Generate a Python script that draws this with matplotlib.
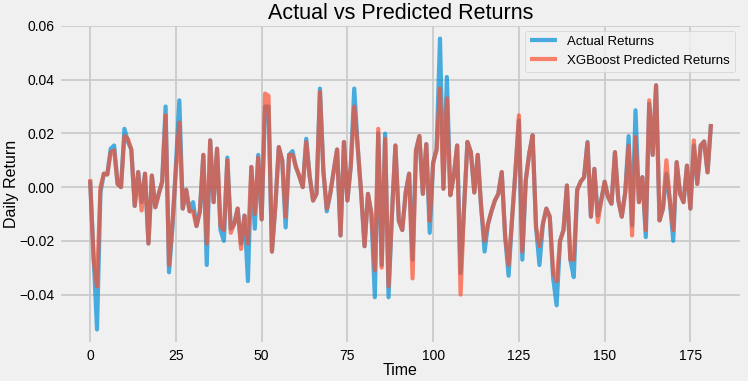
import numpy as np
import matplotlib
matplotlib.use("Agg")
import matplotlib.pyplot as plt

# -------- Data -----------------------------------
actual_returns = [
    0.0025, -0.025, -0.053, -0.002, 0.005, 0.0047, 0.0143, 0.0155, 0.0012, 0.0,
    0.0217, 0.017, 0.014, -0.007, 0.0056, -0.0056, 0.005, -0.021, 0.0043, -0.0075,
    -0.0025, 0.002, 0.030, -0.0317, -0.015, 0.008, 0.0323, -0.008, -0.001, -0.009,
    -0.0056, -0.0145, -0.009, 0.012, -0.029, 0.0174, -0.0056, 0.0143, -0.016, -0.02,
    0.011, -0.0155, -0.0137, -0.008, -0.021, -0.0106, -0.035, 0.0075, -0.0155, 0.012,
    -0.012, 0.030, 0.030, -0.024, -0.007, 0.0149, 0.010, -0.015, 0.012, 0.0134,
    0.0075, 0.004, 0.0, 0.018, 0.004, -0.005, -0.0025, 0.0367, 0.006, -0.009,
    -0.0025, 0.006, 0.014, -0.018, 0.0168, -0.005, 0.008, 0.0367, 0.015, -0.002,
    -0.022, -0.0025, -0.01, -0.041, 0.020, -0.029, 0.0199, -0.041, -0.01, 0.0155,
    -0.0125, -0.016, -0.002, 0.005, -0.027, 0.0137, 0.019, -0.0025, 0.016, -0.017,
    0.009, 0.014, 0.0553, -0.0006, 0.041, -0.003, 0.004, 0.0155, -0.032, -0.008,
    0.0168, 0.013, -0.002, 0.012, -0.0075, -0.024, -0.0137, -0.009, -0.005, -0.0025,
    0.0056, -0.0186, -0.033, -0.012, 0.006, 0.0248, -0.027, 0.0025, 0.0124, 0.0193,
    -0.015, -0.029, -0.0137, -0.008, -0.011, -0.034, -0.044, -0.02, -0.016, 0.0006,
    -0.027, -0.0335, -0.001, 0.002, 0.0037, 0.0168, -0.011, 0.0068, -0.0106, -0.005,
    0.002, -0.0037, -0.0062, 0.013, -0.005, -0.011, -0.002, 0.019, -0.0143, 0.0286,
    -0.0056, 0.0037, -0.0186, 0.031, 0.012, 0.0379, -0.0124, -0.008, 0.005, -0.005,
    -0.02, 0.0093, -0.0025, -0.0056, 0.008, -0.008, 0.0155, 0.0012, 0.0155, 0.017,
    0.0055, 0.0235,
]

predicted_returns = [
    0.003, -0.027, -0.037, 0.0, 0.005, 0.0047, 0.013, 0.0137, 0.0012, 0.0,
    0.019, 0.018, 0.014, -0.007, 0.0056, -0.0087, 0.005, -0.021, 0.0043, -0.0075,
    -0.0025, 0.002, 0.0267, -0.029, -0.013, 0.006, 0.024, -0.008, -0.001, -0.009,
    -0.009, -0.0145, -0.009, 0.012, -0.021, 0.0174, -0.0056, 0.0143, -0.0145, -0.016,
    0.010, -0.017, -0.0137, -0.008, -0.023, -0.0106, -0.021, 0.0075, -0.010, 0.011,
    -0.012, 0.0348, 0.034, -0.024, -0.007, 0.0149, 0.010, -0.011, 0.012, 0.012,
    0.0075, 0.004, 0.0, 0.0168, 0.004, -0.005, -0.0025, 0.0354, 0.006, -0.008,
    -0.0025, 0.006, 0.014, -0.018, 0.0168, -0.005, 0.008, 0.030, 0.015, -0.002,
    -0.022, -0.0025, -0.01, -0.031, 0.0217, -0.030, 0.018, -0.037, -0.01, 0.0155,
    -0.0125, -0.016, -0.002, 0.005, -0.034, 0.0137, 0.019, -0.0025, 0.016, -0.0125,
    0.009, 0.014, 0.0367, -0.0006, 0.033, -0.003, 0.004, 0.0155, -0.040, -0.008,
    0.0168, 0.013, -0.002, 0.012, -0.0075, -0.020, -0.0137, -0.009, -0.005, -0.0025,
    0.0056, -0.0186, -0.029, -0.012, 0.006, 0.0267, -0.024, 0.0025, 0.0124, 0.0193,
    -0.015, -0.022, -0.0137, -0.008, -0.011, -0.032, -0.035, -0.02, -0.016, 0.0006,
    -0.027, -0.027, -0.001, 0.002, 0.0037, 0.0165, -0.011, 0.0068, -0.013, -0.005,
    0.002, -0.0037, -0.0062, 0.013, -0.005, -0.011, -0.002, 0.0155, -0.018, 0.0186,
    -0.0056, 0.0037, -0.016, 0.0323, 0.012, 0.0379, -0.0124, -0.008, 0.010, -0.005,
    -0.016, 0.0093, -0.0025, -0.0056, 0.008, -0.008, 0.0174, 0.0012, 0.0155, 0.017,
    0.0055, 0.0235,
]

TITLE = "Actual vs Predicted Returns"
X_LABEL = "Time"
Y_LABEL = "Daily Return"
# --------------------------------------------------

plt.style.use("fivethirtyeight")
plt.rcParams["font.family"] = ["Liberation Sans", "DejaVu Sans"]

fig = plt.figure(figsize=(7.48, 3.81), dpi=100)
ax = fig.add_axes([0.079, 0.097, 0.913, 0.840])

x = np.arange(len(actual_returns))
ax.plot(x, actual_returns, label="Actual Returns", color="#008fd5",
        linewidth=3.0, alpha=0.7)
ax.plot(x, predicted_returns, label="XGBoost Predicted Returns", color="#fc4f30",
        linewidth=3.0, alpha=0.7)

ax.set_title(TITLE, fontsize=15.5, pad=-1)
ax.set_xlabel(X_LABEL, fontsize=11.5, labelpad=0)
ax.set_ylabel(Y_LABEL, fontsize=11.5, labelpad=0)
ax.tick_params(labelsize=10)
ax.grid(linewidth=1.3)
ax.legend(loc="upper right", fontsize=9.5)

fig.savefig("out.png", dpi=100)
